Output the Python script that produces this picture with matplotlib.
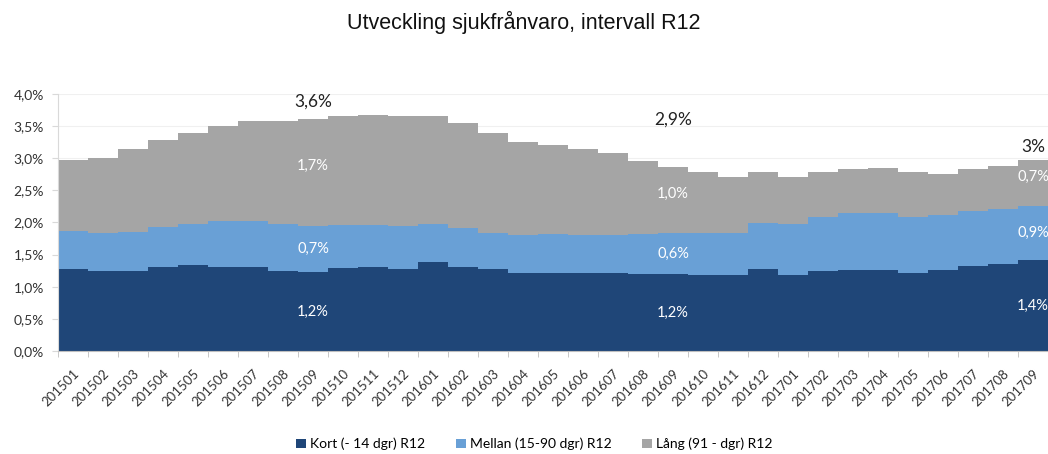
import matplotlib
matplotlib.use("Agg")
import matplotlib.pyplot as plt
from matplotlib.ticker import FuncFormatter, FixedLocator
import numpy as np

months = ["201501", "201502", "201503", "201504", "201505", "201506", "201507",
          "201508", "201509", "201510", "201511", "201512", "201601", "201602",
          "201603", "201604", "201605", "201606", "201607", "201608", "201609",
          "201610", "201611", "201612", "201701", "201702", "201703", "201704",
          "201705", "201706", "201707", "201708", "201709"]

kort = [1.27, 1.25, 1.25, 1.30, 1.34, 1.31, 1.30, 1.25, 1.23, 1.29, 1.31, 1.28,
        1.38, 1.31, 1.28, 1.22, 1.22, 1.21, 1.21, 1.20, 1.19, 1.18, 1.18, 1.27,
        1.18, 1.25, 1.26, 1.26, 1.22, 1.26, 1.32, 1.36, 1.41]
mellan = [0.60, 0.59, 0.60, 0.63, 0.64, 0.71, 0.72, 0.72, 0.72, 0.67, 0.65, 0.67,
          0.60, 0.60, 0.55, 0.58, 0.60, 0.59, 0.60, 0.62, 0.64, 0.66, 0.66, 0.72,
          0.80, 0.84, 0.88, 0.89, 0.87, 0.86, 0.86, 0.85, 0.84]
lang = [1.11, 1.16, 1.29, 1.35, 1.42, 1.48, 1.56, 1.61, 1.66, 1.69, 1.72, 1.71,
        1.68, 1.64, 1.57, 1.46, 1.38, 1.34, 1.27, 1.14, 1.03, 0.94, 0.86, 0.79,
        0.72, 0.69, 0.69, 0.69, 0.69, 0.63, 0.65, 0.67, 0.72]

series_names = ["Kort (- 14 dgr) R12", "Mellan (15-90 dgr) R12", "Lång (91 - dgr) R12"]
colors = ["#1f4678", "#69a0d6", "#a5a5a5"]

# labelled months and their printed values
label_idx = [8, 20, 32]
label_kort = ["1,2%", "1,2%", "1,4%"]
label_mellan = ["0,7%", "0,6%", "0,9%"]
label_lang = ["1,7%", "1,0%", "0,7%"]
label_total = ["3,6%", "2,9%", "3%"]
total_label_y = [3.88, 3.60, 3.18]


def pct(v, pos):
    return ("%.1f%%" % v).replace(".", ",")


def main():
    fig = plt.figure(figsize=(10.48, 4.54), dpi=100)
    ax = fig.add_axes([0.0553, 0.227, 0.9447, 0.566])

    x = np.arange(len(months))
    k = np.array(kort)
    m = np.array(mellan)
    l = np.array(lang)
    ax.bar(x, k, width=1.0, color=colors[0], label=series_names[0], linewidth=0, zorder=2)
    ax.bar(x, m, width=1.0, bottom=k, color=colors[1], label=series_names[1], linewidth=0, zorder=2)
    ax.bar(x, l, width=1.0, bottom=k + m, color=colors[2], label=series_names[2], linewidth=0, zorder=2)

    for j, i in enumerate(label_idx):
        ax.text(i, k[i] / 2, label_kort[j], color="white", ha="center", va="center",
                fontsize=10.5, family="Lato", zorder=3)
        ax.text(i, k[i] + m[i] / 2, label_mellan[j], color="white", ha="center", va="center",
                fontsize=10.5, family="Lato", zorder=3)
        ax.text(i, k[i] + m[i] + l[i] / 2 + 0.1, label_lang[j], color="white", ha="center",
                va="center", fontsize=10.5, family="Lato", zorder=3)
        ax.text(i, total_label_y[j], label_total[j], color="#222222", ha="center", va="center",
                fontsize=12.5, family="Lato", zorder=3)

    ax.set_xlim(-0.5, len(months) - 0.5)
    ax.set_ylim(0, 4.0)
    ax.yaxis.set_major_locator(FixedLocator(np.arange(0, 4.01, 0.5)))
    ax.yaxis.set_major_formatter(FuncFormatter(pct))
    ax.grid(axis="y", color="#f0f0f0", linewidth=0.8, zorder=0)

    ax.set_xticks(x)
    ax.set_xticklabels(months, rotation=45, ha="right", rotation_mode="anchor",
                       fontsize=9.5, family="Lato", color="#333333")
    ax.tick_params(axis="x", length=0, pad=12)
    ax.set_xticks(np.arange(-0.5, len(months), 1.0), minor=True)
    ax.tick_params(axis="x", which="minor", length=4, color="#bfbfbf")
    ax.tick_params(axis="y", length=4, color="#d9d9d9", labelsize=10,
                   labelcolor="#333333", pad=6)
    for lab in ax.get_yticklabels():
        lab.set_family("Lato")

    for s in ["top", "right"]:
        ax.spines[s].set_visible(False)
    ax.spines["left"].set_color("#d9d9d9")
    ax.spines["bottom"].set_color("#bfbfbf")

    fig.suptitle("Utveckling sjukfrånvaro, intervall R12", y=0.975, fontsize=15.5,
                 family="Liberation Sans", color="#111111")

    fig.legend(loc="center", bbox_to_anchor=(0.51, 0.022), ncol=3, frameon=False,
               prop={"family": "Lato", "size": 10}, handlelength=0.7,
               handleheight=0.7, columnspacing=2.2, handletextpad=0.3)

    fig.savefig("out.png", dpi=100)


if __name__ == "__main__":
    main()
